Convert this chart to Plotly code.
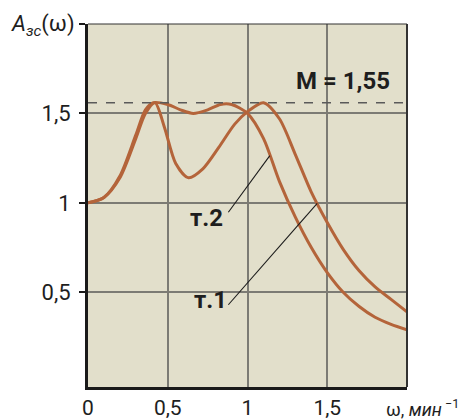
import numpy as np
import plotly.graph_objects as go

# ---- data ----
x_t1 = [0.0, 0.1, 0.2, 0.3, 0.36, 0.42, 0.48, 0.55, 0.63, 0.72, 0.82, 0.92, 1.0, 1.1,
        1.2, 1.3, 1.4, 1.5, 1.6, 1.7, 1.8, 1.9, 2.0]
y_t1 = [1.0, 1.03, 1.14, 1.36, 1.50, 1.56, 1.42, 1.22, 1.14, 1.19, 1.31, 1.44, 1.51, 1.56,
        1.47, 1.27, 1.06, 0.89, 0.74, 0.62, 0.53, 0.46, 0.39]

x_t2 = [0.0, 0.1, 0.2, 0.3, 0.36, 0.41, 0.5, 0.58, 0.66, 0.75, 0.83, 0.9, 1.0, 1.1,
        1.2, 1.3, 1.4, 1.5, 1.6, 1.7, 1.8, 1.9, 2.0]
y_t2 = [1.0, 1.03, 1.15, 1.38, 1.52, 1.56, 1.55, 1.52, 1.50, 1.52, 1.55, 1.55, 1.50, 1.36,
        1.12, 0.92, 0.75, 0.61, 0.50, 0.42, 0.36, 0.32, 0.29]

M_value = 1.56
M_label = "M = 1,55"

x_tickvals = [0, 0.5, 1, 1.5]
x_ticktext = ["0", "0,5", "1", "1,5"]
y_tickvals = [0.5, 1, 1.5, 2]
y_ticktext = ["0,5", "1", "1,5", ""]

curve_labels = ["т.1", "т.2"]

# ---- layout constants (page has an 8px body margin) ----
OFF = 8
W, H = 476, 419
ML, MT = 88 - OFF, 24 - OFF
PW, PH = 319, 363
MR, MB = W - ML - PW, H - MT - PH


def px(x):
    return (x - OFF - ML) / PW


def py(y):
    return (MT + PH - (y - OFF)) / PH


CURVE = "#b4643a"
BG = "#e2dfcb"
GRID = "#7c7b74"
FONT = "Roboto, Arial, sans-serif"

fig = go.Figure()
for xs, ys in [(x_t1, y_t1), (x_t2, y_t2)]:
    fig.add_trace(go.Scatter(x=xs, y=ys, mode="lines",
                             line=dict(color=CURVE, width=3, shape="spline", smoothing=0.8),
                             showlegend=False, hoverinfo="skip"))

# dashed M line
fig.add_shape(type="line", xref="x", yref="y", x0=0, x1=2, y0=M_value, y1=M_value,
              line=dict(color="#5a5a5a", width=1.5, dash="dash"), layer="above")
# darker line at 1
fig.add_shape(type="line", xref="x", yref="y", x0=0, x1=2, y0=1, y1=1,
              line=dict(color="#2e2e2e", width=1.2), layer="below")

# pointer lines
p2_end_x = 1.14
p2_end_y = float(np.interp(p2_end_x, x_t2, y_t2))
p1_end_x = 1.437
p1_end_y = float(np.interp(p1_end_x, x_t1, y_t1))
fig.add_shape(type="line", xref="x", yref="y", x0=0.88, y0=0.947, x1=p2_end_x, y1=p2_end_y,
              line=dict(color="#1a1a1a", width=1.1))
fig.add_shape(type="line", xref="x", yref="y", x0=0.88, y0=0.43, x1=p1_end_x, y1=p1_end_y,
              line=dict(color="#1a1a1a", width=1.1))

bold = dict(family=FONT, size=24, color="#1e1e1e", weight="bold")
fig.add_annotation(x=1.6, y=1.68, xref="x", yref="y", text="<b>" + M_label + "</b>",
                   showarrow=False, font=bold, xanchor="center", yanchor="middle")
fig.add_annotation(x=0.745, y=0.913, xref="x", yref="y", text="<b>" + curve_labels[1] + "</b>",
                   showarrow=False, font=bold, xanchor="center", yanchor="middle")
fig.add_annotation(x=0.77, y=0.457, xref="x", yref="y", text="<b>" + curve_labels[0] + "</b>",
                   showarrow=False, font=bold, xanchor="center", yanchor="middle")

# axis titles
fig.add_annotation(x=px(9), y=py(26), xref="paper", yref="paper",
                   text="<i>A</i><sub><i>зс</i></sub>(ω)", showarrow=False,
                   font=dict(family=FONT, size=22, color="#1e1e1e"),
                   xanchor="left", yanchor="middle")
fig.add_annotation(x=px(384), y=py(408), xref="paper", yref="paper",
                   text="ω, <i>мин</i><sup> −1</sup>", showarrow=False,
                   font=dict(family=FONT, size=18, color="#1e1e1e"),
                   xanchor="left", yanchor="middle")

fig.update_layout(
    width=W, height=H,
    margin=dict(l=ML, r=MR, t=MT, b=MB),
    paper_bgcolor="white", plot_bgcolor=BG,
    showlegend=False,
    font=dict(family=FONT, size=22, color="#1e1e1e"),
)
fig.update_xaxes(range=[0, 2], tickvals=x_tickvals, ticktext=x_ticktext,
                 showgrid=True, gridcolor=GRID, gridwidth=1.6, zeroline=False,
                 ticks="", ticklabelstandoff=0, automargin=False,
                 showline=True, linecolor="#1a1a1a", linewidth=3, mirror=False,
                 tickfont=dict(family=FONT, size=21, color="#1e1e1e"))
fig.update_yaxes(range=[-0.03, 2.0], tickvals=y_tickvals, ticktext=y_ticktext,
                 showgrid=True, gridcolor=GRID, gridwidth=1.6, zeroline=False,
                 ticks="outside", ticklen=6, tickwidth=1.5, tickcolor="#1a1a1a",
                 ticklabelstandoff=4, automargin=False,
                 showline=True, linecolor="#1a1a1a", linewidth=3, mirror=False,
                 tickfont=dict(family=FONT, size=22, color="#1e1e1e"))
# top and right frame
fig.add_shape(type="line", xref="paper", yref="paper", x0=0, x1=1, y0=1, y1=1,
              line=dict(color="#333333", width=1.2))
fig.add_shape(type="line", xref="paper", yref="paper", x0=1, x1=1, y0=0, y1=1,
              line=dict(color="#333333", width=2))

fig.write_html("out.html")
